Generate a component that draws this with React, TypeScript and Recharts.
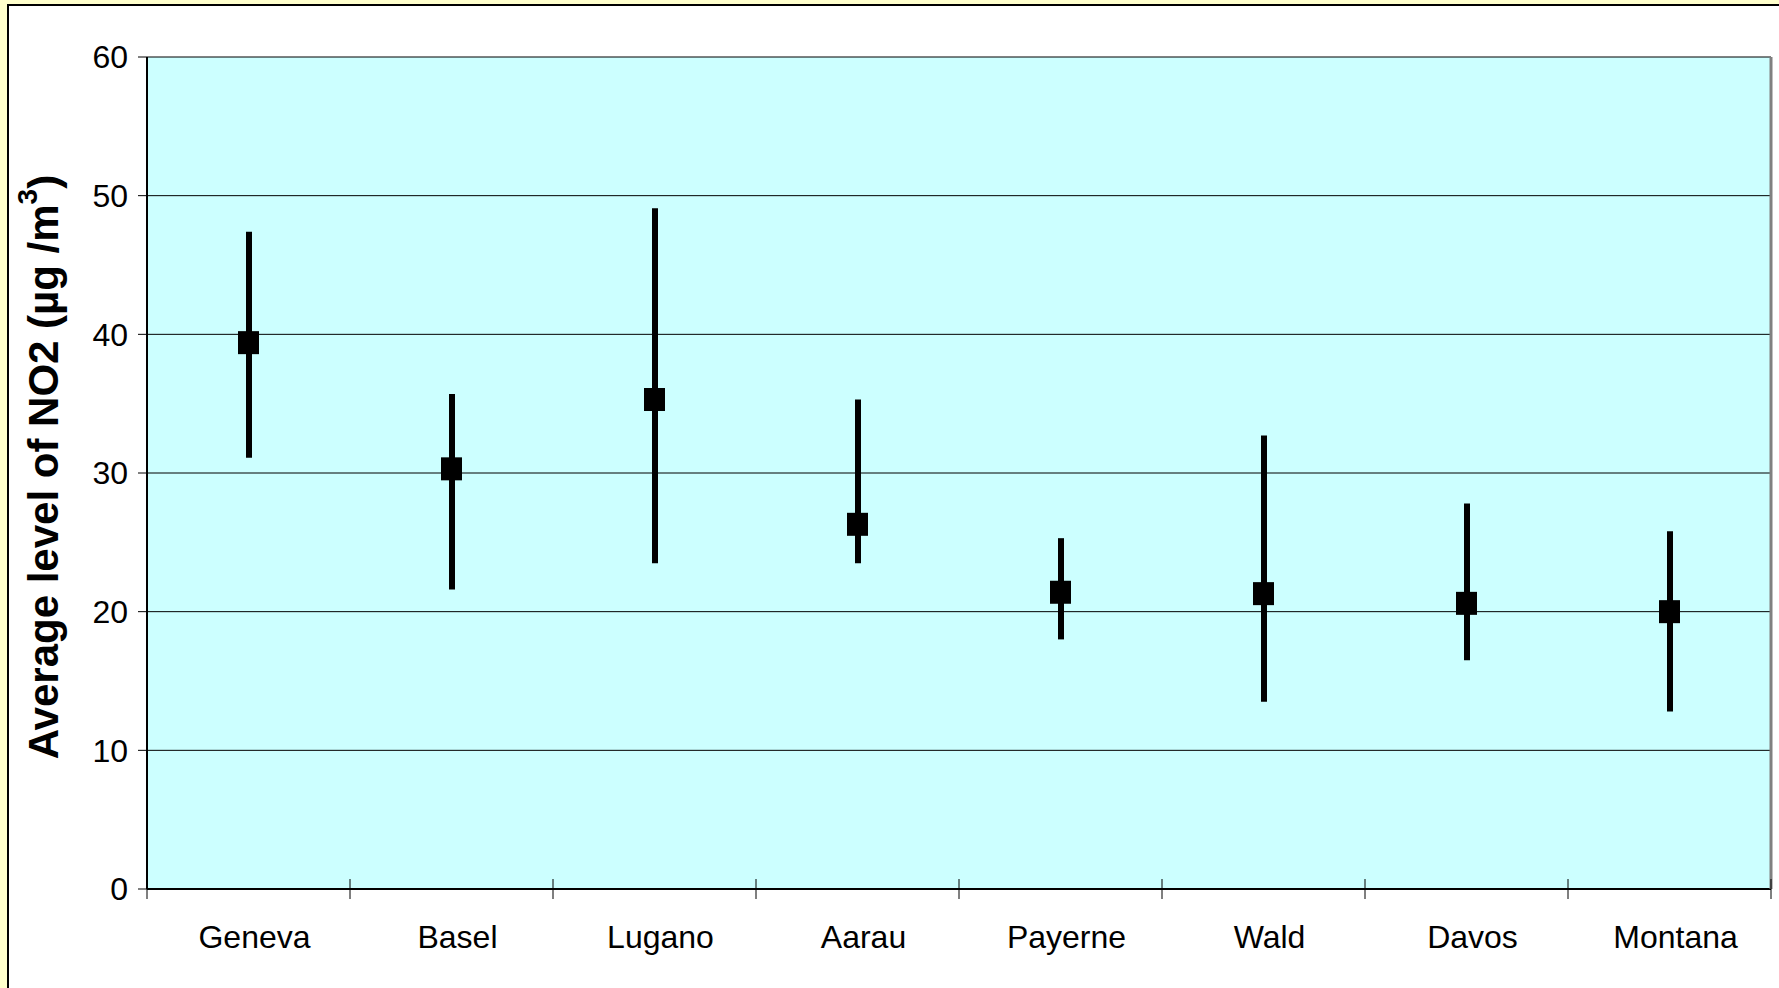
import { ComposedChart, Bar, Line, XAxis, YAxis, CartesianGrid } from 'recharts';

const cities = ['Geneva', 'Basel', 'Lugano', 'Aarau', 'Payerne', 'Wald', 'Davos', 'Montana'];
const means = [39.4, 30.3, 35.3, 26.3, 21.4, 21.3, 20.6, 20.0];
const lows = [31.1, 21.6, 23.5, 23.5, 18.0, 13.5, 16.5, 12.8];
const highs = [47.4, 35.7, 49.1, 35.3, 25.3, 32.7, 27.8, 25.8];
const yTicks = [0, 10, 20, 30, 40, 50, 60];

const data = cities.map((city, i) => ({
  city,
  mean: means[i],
  range: [lows[i], highs[i]],
}));

const FONT = '"Liberation Sans", Arial, sans-serif';

// square marker like the Excel one
const SquareDot = (props: any) => {
  const { cx, cy } = props;
  if (cx == null || cy == null) return null;
  return <rect x={cx - 10.5} y={cy - 11.5} width={21} height={23} fill="#000" />;
};

// category label plus the Excel-style boundary tick that crosses the axis line
const CityTick = (props: any) => {
  const { x, y, payload, index, visibleTicksCount } = props;
  const half = payload.offset ?? 0;
  const axisY = y;
  return (
    <g>
      <line x1={x - half} x2={x - half} y1={axisY - 10} y2={axisY + 10} stroke="#000" strokeWidth={1} />
      {index === visibleTicksCount - 1 && (
        <line x1={x + half} x2={x + half} y1={axisY - 10} y2={axisY + 10} stroke="#000" strokeWidth={1} />
      )}
      <text x={x + 6} y={axisY + 59} textAnchor="middle" fontSize={32} fontFamily={FONT} fill="#000">
        {payload.value}
      </text>
    </g>
  );
};

const YTitle = (props: any) => {
  const { viewBox } = props;
  const cx = 43;
  const cy = viewBox.y + viewBox.height / 2 - 6;
  return (
    <text
      x={cx}
      y={cy}
      transform={`rotate(-90 ${cx} ${cy})`}
      textAnchor="middle"
      dominantBaseline="central"
      fontSize={42}
      fontWeight="bold"
      fontFamily={FONT}
      fill="#000"
    >
      Average level of NO2 (µg /m
      <tspan fontSize={28} dy={-16}>3</tspan>
      <tspan dy={16}>)</tspan>
    </text>
  );
};

export default function App() {
  return (
    <div
      style={{
        position: 'fixed',
        left: 0,
        top: 0,
        width: 1779,
        height: 988,
        background: '#FFFFCC',
      }}
    >
      <div
        style={{
          position: 'absolute',
          left: 7,
          top: 4,
          right: 0,
          bottom: 0,
          background: '#fff',
          borderLeft: '2px solid #000',
          borderTop: '2px solid #000',
        }}
      />
      <div style={{ position: 'absolute', left: 0, top: 0 }}>
        <ComposedChart
          width={1779}
          height={988}
          data={data}
          margin={{ top: 57, right: 0, bottom: 0, left: 0 }}
        >
          <CartesianGrid
            horizontal
            vertical={false}
            fill="#CCFFFF"
            stroke="#000"
            strokeWidth={1}
          />
          <XAxis
            dataKey="city"
            axisLine={{ stroke: '#000', strokeWidth: 2 }}
            tickLine={false}
            tickSize={0}
            tickMargin={0}
            tick={<CityTick />}
            interval={0}
            height={99}
          />
          <YAxis
            domain={[0, 60]}
            ticks={yTicks}
            width={147}
            axisLine={{ stroke: '#000', strokeWidth: 2 }}
            tickLine={{ stroke: '#000' }}
            tickSize={9}
            tickMargin={10}
            tick={{ fontSize: 32, fontFamily: FONT, fill: '#000' }}
            label={<YTitle />}
          />
          <YAxis
            yAxisId="frame"
            orientation="right"
            domain={[0, 60]}
            width={8}
            tick={false}
            tickLine={false}
            axisLine={{ stroke: '#808080', strokeWidth: 3 }}
          />
          <Bar dataKey="range" barSize={6} fill="#000" isAnimationActive={false} />
          <Line
            dataKey="mean"
            stroke="none"
            dot={<SquareDot />}
            activeDot={false}
            isAnimationActive={false}
            legendType="none"
          />
        </ComposedChart>
      </div>
    </div>
  );
}
